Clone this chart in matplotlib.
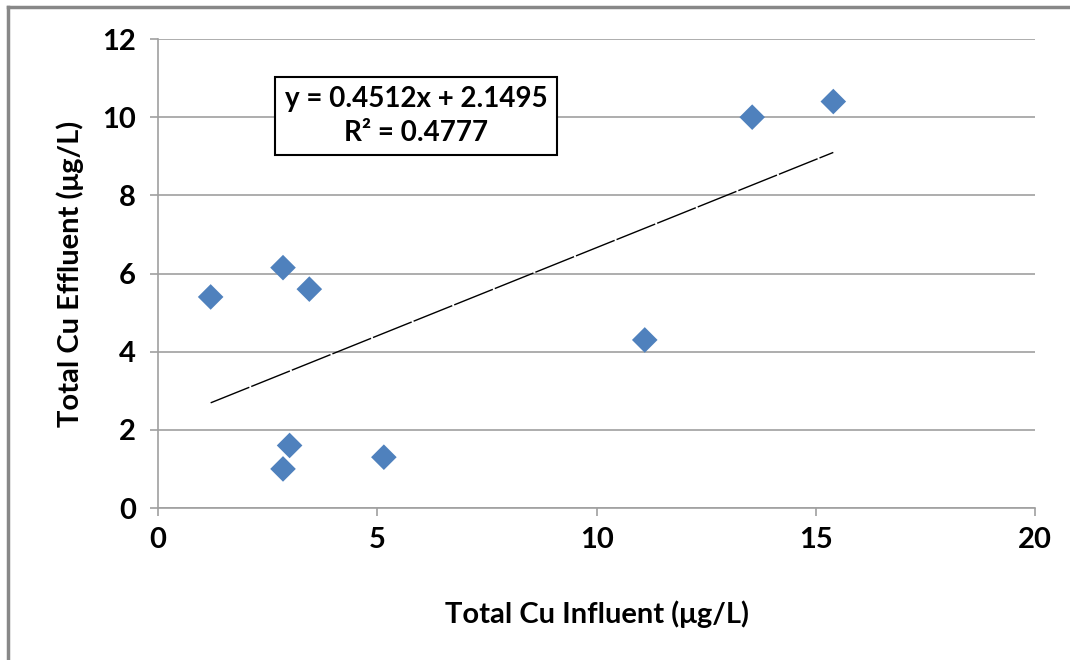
import numpy as np
import matplotlib.pyplot as plt
from matplotlib.lines import Line2D

# data
influent = [1.2, 2.85, 3.45, 3.0, 2.85, 5.15, 11.1, 13.55, 15.4]
effluent = [5.4, 6.15, 5.6, 1.6, 1.0, 1.3, 4.3, 10.0, 10.4]
slope = 0.4512
intercept = 2.1495
r2 = 0.4777

plt.rcParams['font.family'] = ['Lato', 'DejaVu Sans']

fig = plt.figure(figsize=(10.7, 6.6), dpi=100)
ax = fig.add_axes([0.1477, 0.2303, 0.8196, 0.7106])

ax.scatter(influent, effluent, marker='D', s=170, color='#4F81BD',
           edgecolors='none', zorder=3)

# linear trendline over the data range
xs = np.array([min(influent), max(influent)])
ax.plot(xs, slope * xs + intercept, color='black', linewidth=1,
        dashes=(30, 1.5), zorder=2)

ax.set_xlim(0, 20)
ax.set_ylim(0, 12)
ax.set_xticks([0, 5, 10, 15, 20])
ax.set_yticks(range(0, 13, 2))
ax.yaxis.grid(True, color='#a0a0a0', linewidth=1.2)
ax.set_axisbelow(True)

for s in ['top', 'right']:
    ax.spines[s].set_visible(False)
for s in ['left', 'bottom']:
    ax.spines[s].set_color('#a0a0a0')
    ax.spines[s].set_linewidth(1.2)
ax.tick_params(axis='both', direction='out', length=6, width=1.2,
               color='#a0a0a0', labelsize=21)
ax.tick_params(axis='y', pad=10)
ax.tick_params(axis='x', pad=8)
for lab in ax.get_xticklabels() + ax.get_yticklabels():
    lab.set_fontweight('bold')

ax.set_xlabel('Total Cu Influent (\u03bcg/L)', fontsize=21, fontweight='bold',
              labelpad=34)
ax.set_ylabel('Total Cu Effluent (\u03bcg/L)', fontsize=21, fontweight='bold',
              labelpad=13)

W, H = 1070, 660
ax.text(416 / W, 1 - 116 / H,
        'y = %.4fx + %.4f\nR\u00b2 = %.4f' % (slope, intercept, r2),
        transform=fig.transFigure, ha='center', va='center', fontsize=20,
        fontweight='bold', linespacing=1.35,
        bbox=dict(boxstyle='square,pad=0.35', facecolor='white',
                  edgecolor='black', linewidth=1.5))

# outer frame (left and top edges visible)
fig.add_artist(Line2D([8 / W, 8 / W], [0, 1 - 7 / H], color='#888888',
                      linewidth=2.5, transform=fig.transFigure))
fig.add_artist(Line2D([8 / W, 1], [1 - 7 / H, 1 - 7 / H], color='#888888',
                      linewidth=2.5, transform=fig.transFigure))

fig.savefig('out.png', dpi=100)
